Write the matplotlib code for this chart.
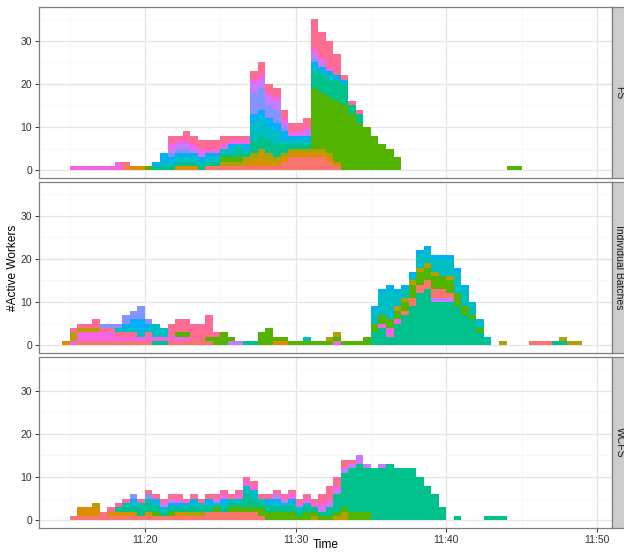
import numpy as np
import matplotlib.pyplot as plt

plt.rcParams['font.family'] = ['Liberation Sans', 'DejaVu Sans']

# time axis: minutes after 11:00, one sample every 30 s
t_start = 14.5
t_step = 0.5
n_steps = 72
minutes = t_start + t_step * np.arange(n_steps)

panels = ['FS', 'Individual Batches', 'WCFS']
x_ticks = [20, 30, 40, 50]
x_labels = ['11:20', '11:30', '11:40', '11:50']
y_ticks = [0, 10, 20, 30]

# worker counts, given as (start minute, values every 30 s)
# --- FS ---
fs_salmon = [(18.5, [2]), (24.0, [1, 1, 1, 1, 1, 1, 1, 1, 1, 1, 2, 3, 3, 3, 3, 3, 2, 1])]
fs_brown = [(19.0, [1, 1]), (22.0, [1, 1, 1]), (26.5, [1, 1, 2, 1, 1, 1, 1, 1, 1, 1, 1, 1, 1])]
fs_olive = [(25.0, [1, 1, 1, 1, 2, 2, 2, 1, 1, 1, 1, 1, 1, 1, 1])]
fs_green = [(20.0, [1]), (25.0, [1, 1, 1]),
            (31.0, [14, 13, 13, 14, 15, 13, 11, 10, 8, 6, 5, 3]), (44.0, [1, 1])]
fs_seagreen = [(20.5, [1, 1, 1, 1, 1, 1, 1, 1, 1, 1, 1, 2, 1, 3, 3, 3, 3, 2, 1, 1, 1,
                       4, 4, 4, 5, 5, 2, 2])]
fs_cyan = [(21.0, [1, 1, 1, 1, 1, 1, 1, 1, 1, 1, 1, 1, 4, 4, 3, 3, 1, 1, 1, 1, 1, 1, 1])]
fs_blue = [(20.5, [1, 2, 1, 1, 1, 1, 1, 1, 1, 0, 1, 0, 1, 2, 2, 2, 2, 2, 1, 1, 1, 1, 1, 1, 1, 1])]
fs_periwinkle = [(21.5, [1, 1, 1]), (27.0, [5, 5, 3, 3, 1]), (31.0, [1])]
fs_purple = [(21.5, [1, 1, 1, 1, 1]), (27.0, [2, 2, 2, 2, 1]), (30.5, [1, 1, 1])]
fs_magenta = [(15.0, [1, 1, 1, 1, 1, 1, 2]),
              (21.5, [1, 1, 1, 1, 1, 1, 1, 1, 1, 1, 1, 1, 1, 1, 1, 1, 1, 1, 1, 1, 1, 1])]
fs_pink = [(21.5, [2, 1, 2, 2, 2, 2, 2, 2, 1, 1, 1, 2, 3, 2, 2, 2, 2, 2, 2, 7, 6, 6, 5, 1, 1, 1])]

# --- Individual Batches ---
ib_brown = [(14.5, [1]), (28.5, [1, 1])]
ib_seagreen = [(20.5, [1, 1]), (26.5, [1, 1]),
               (35.0, [3, 4, 2, 5, 7, 9, 12, 13, 10, 10, 10, 9, 7, 6, 3, 1]), (47.0, [1, 1])]
ib_purple = [(25.5, [1, 1]), (39.0, [1, 1, 1])]
ib_salmon = [(15.5, [1, 1, 1, 1, 1, 1, 1, 1, 1, 1]), (21.5, [1, 1, 1, 1, 1, 1]),
             (37.0, [1, 2, 2, 2, 2, 2, 1]), (45.5, [1, 1, 1])]
ib_magenta = [(15.0, [1, 2, 2, 2, 2, 2, 1, 1, 1, 1, 1, 1, 1]), (21.5, [1, 1, 1]),
              (32.5, [1]), (35.5, [1, 2, 1])]
ib_green = [(22.0, [1, 1]), (24.0, [1, 2, 3, 1]),
            (27.5, [3, 4, 1, 1, 1, 1, 1, 1, 1, 1, 1, 1, 1, 1, 2, 2, 2, 2, 2, 2,
                    3, 3, 3, 3, 3, 3, 3, 2, 1, 1])]
ib_olive = [(15.0, [2, 1, 1, 1]), (32.0, [1, 1]), (36.5, [1, 1, 1, 1, 1, 1, 0, 1]),
            (43.5, [1]), (47.5, [1, 1, 1])]
ib_pink = [(15.0, [1, 1, 1, 2, 1, 1, 1, 1, 1, 0, 1]), (21.5, [3, 3, 3, 4, 4, 5, 1])]
ib_cyan = [(18.0, [1, 1, 1, 1, 1, 3, 2]), (30.5, [1]),
           (35.0, [3, 5, 7, 3, 2, 1, 3, 3, 3, 4, 4, 5, 4, 3, 2, 1])]
ib_blue = [(18.5, [1, 2, 3, 1]), (35.0, [1, 1, 1, 1, 1, 1, 1, 1, 1, 1, 1, 1, 1])]
ib_periwinkle = [(17.0, [1, 1, 1, 2, 2, 3, 1])]

# --- WCFS ---
wc_salmon = [(15.0, [1, 1, 1, 1, 1, 1, 1, 1, 1, 1, 1, 1, 1, 1, 1, 1, 1, 1,
                     2, 2, 2, 2, 2, 2, 2, 1])]
wc_brown = [(15.5, [2, 2, 2, 0, 1, 1, 1, 1, 0, 1]), (22.0, [1])]
wc_olive = [(16.5, [1]), (22.5, [1, 1, 1]), (31.0, [1, 0, 0, 1, 2])]
wc_green = [(20.5, [1, 0, 1]),
            (24.5, [1, 0, 1, 1, 1, 1, 2, 2, 2, 2, 2, 1, 2, 1, 1, 1, 1, 1, 2, 2, 2])]
wc_seagreen = [(18.0, [1, 1, 1, 2, 2, 1, 1, 1, 1, 1, 1, 1, 1, 0, 1, 1, 1, 3, 2, 1, 1, 1, 1,
                       1, 1, 1, 1, 1, 2, 4, 8, 10, 11, 10, 12, 12, 13, 12, 12, 12, 10, 8,
                       6, 3, 0, 1]),
               (42.5, [1, 1, 1])]
wc_cyan = [(18.5, [1, 1, 1, 1, 1, 1, 0, 0, 0, 1, 1, 1, 1, 1, 1, 1, 2, 2, 1, 1, 1, 1, 1, 1, 1])]
wc_blue = [(19.0, [1]), (20.5, [1, 0, 1, 1, 1, 1, 0, 1, 0, 1]), (28.0, [1, 1, 0, 1])]
wc_periwinkle = [(19.0, [1, 0, 1])]
wc_purple = [(21.0, [1, 1]), (24.5, [1]), (28.5, [1, 1]), (31.5, [1, 1, 1, 1, 1, 2, 1, 0, 1])]
wc_magenta = [(22.0, [1]), (25.0, [1, 0, 1, 1, 1]), (29.5, [1, 1, 1, 1, 1, 1, 1])]
wc_pink = [(17.0, [1, 1, 1, 1, 0, 1, 1, 1, 1, 1, 1, 1, 1, 1, 1, 1, 1, 1, 1, 1, 1, 1, 1, 1,
                   1, 1, 1, 1, 1, 2, 3, 2, 2, 1])]

col = {'salmon': '#F8766D', 'brown': '#DE8C00', 'olive': '#B3A000', 'green': '#53B400',
       'seagreen': '#00C08B', 'cyan': '#00BFC4', 'blue': '#00B0F6',
       'periwinkle': '#8494FF', 'purple': '#C77CFF', 'magenta': '#F564E3',
       'pink': '#FF6C91'}


def expand(segments):
    out = np.zeros(n_steps)
    for start, vals in segments:
        i = int(round((start - t_start) / t_step))
        out[i:i + len(vals)] = vals
    return out


stacks = [
    [(fs_salmon, 'salmon'), (fs_brown, 'brown'), (fs_olive, 'olive'), (fs_green, 'green'),
     (fs_seagreen, 'seagreen'), (fs_cyan, 'cyan'), (fs_blue, 'blue'),
     (fs_periwinkle, 'periwinkle'), (fs_purple, 'purple'), (fs_magenta, 'magenta'),
     (fs_pink, 'pink')],
    [(ib_brown, 'brown'), (ib_seagreen, 'seagreen'), (ib_purple, 'purple'),
     (ib_salmon, 'salmon'), (ib_magenta, 'magenta'), (ib_green, 'green'),
     (ib_olive, 'olive'), (ib_pink, 'pink'), (ib_cyan, 'cyan'), (ib_blue, 'blue'),
     (ib_periwinkle, 'periwinkle')],
    [(wc_salmon, 'salmon'), (wc_brown, 'brown'), (wc_olive, 'olive'), (wc_green, 'green'),
     (wc_seagreen, 'seagreen'), (wc_cyan, 'cyan'), (wc_blue, 'blue'),
     (wc_periwinkle, 'periwinkle'), (wc_purple, 'purple'), (wc_magenta, 'magenta'),
     (wc_pink, 'pink')],
]

W, H = 624, 553
fig = plt.figure(figsize=(W / 100, H / 100), dpi=100)

left, right = 39, 612
tops = [7, 182, 357]
ph = 171
border = '#7F7F7F'

for k, name in enumerate(panels):
    top = tops[k]
    ax = fig.add_axes([left / W, 1 - (top + ph) / H, (right - left) / W, ph / H])
    layers = [expand(seg) for seg, _ in stacks[k]]
    colors = [col[c] for _, c in stacks[k]]
    ax.stackplot(minutes, *layers, colors=colors, step='post', linewidth=0)

    ax.set_xlim(12.97, 51.0)
    ax.set_ylim(-1.8, 37.8)
    ax.set_xticks(x_ticks)
    ax.set_xticks([15, 25, 35, 45], minor=True)
    ax.set_yticks(y_ticks)
    ax.set_yticks([5, 15, 25, 35], minor=True)
    ax.grid(which='major', color='#E5E5E5', linewidth=0.9)
    ax.grid(which='minor', color='#F7F7F7', linewidth=0.6)
    ax.set_axisbelow(True)
    ax.tick_params(which='minor', length=0)
    ax.tick_params(which='major', length=3, width=0.7, color='#333333',
                   labelsize=7.5, labelcolor='#333333', pad=2)
    if k == 2:
        ax.set_xticklabels(x_labels)
    else:
        ax.tick_params(axis='x', which='major', length=0, labelbottom=False)
    for s in ax.spines.values():
        s.set_color(border)
        s.set_linewidth(0.9)

    # facet strip on the right
    sax = fig.add_axes([right / W, 1 - (top + ph) / H, 15 / W, ph / H])
    sax.set_facecolor('#CCCCCC')
    sax.set_xticks([])
    sax.set_yticks([])
    for s in sax.spines.values():
        s.set_color(border)
        s.set_linewidth(0.9)
    sax.text(0.5, 0.5, name, rotation=270, ha='center', va='center',
             fontsize=7.5, color='#1A1A1A', transform=sax.transAxes)

fig.text(12.5 / W, 1 - 267.5 / H, '#Active Workers', rotation=90,
         ha='center', va='center', fontsize=8.6)
fig.text((left + right) / 2 / W, 1.5 / H, 'Time', ha='center', va='bottom', fontsize=8.6)

fig.savefig('out.png', dpi=100)
